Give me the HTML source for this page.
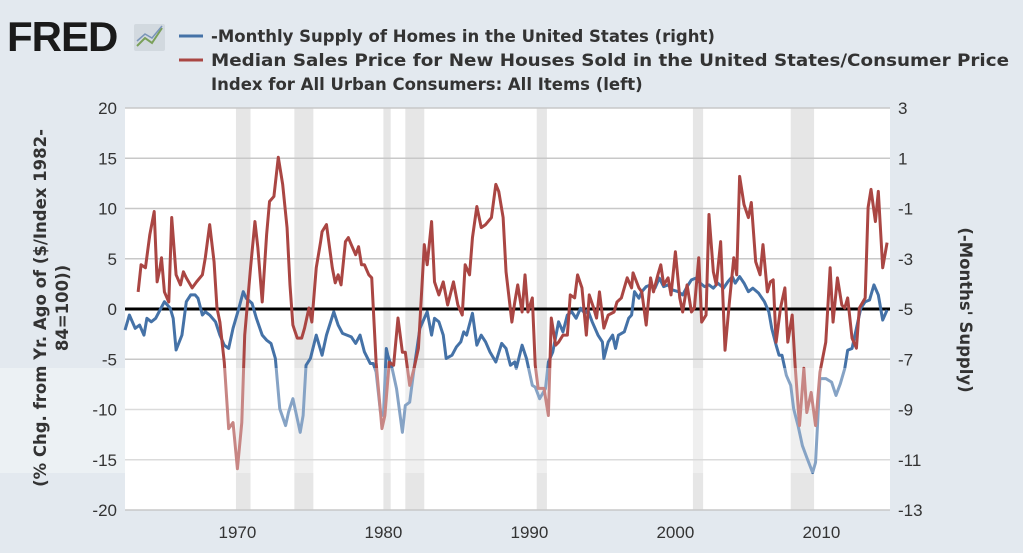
<!DOCTYPE html>
<html><head><meta charset="utf-8"><style>
body{margin:0;width:1023px;height:553px;overflow:hidden;background:#e3e9ef;font-family:"Liberation Sans",sans-serif}
svg{display:block}
</style></head><body>
<svg width="1023" height="553">
<rect x="0" y="0" width="1023" height="553" fill="#e3e9ef"/>
<g>
<text x="7" y="51" font-size="42" font-weight="bold" fill="#1a1a1a" font-family="Liberation Sans, sans-serif" letter-spacing="-1">FRED</text>
<rect x="134" y="24" width="31" height="27" fill="#d2d9df" rx="2"/>
<polyline points="137,46 145,38 152,43 162,28" fill="none" stroke="#7aa05a" stroke-width="2"/>
<polyline points="137,41 145,34 152,38 162,26" fill="none" stroke="#7a95b8" stroke-width="1.5"/>
</g>
<g font-family="DejaVu Sans, sans-serif">
<line x1="179" y1="36" x2="203" y2="36" stroke="#4572a7" stroke-width="3"/>
<text x="211" y="42" font-size="16.5" font-weight="bold" fill="#333">-Monthly Supply of Homes in the United States (right)</text>
<line x1="179" y1="60" x2="203" y2="60" stroke="#aa4643" stroke-width="3"/>
<text x="211" y="66" font-size="16.5" font-weight="bold" fill="#333" textLength="798" lengthAdjust="spacingAndGlyphs">Median Sales Price for New Houses Sold in the United States/Consumer Price</text>
<text x="211" y="90" font-size="16.5" font-weight="bold" fill="#333">Index for All Urban Consumers: All Items (left)</text>
</g>
<rect x="125" y="108" width="765" height="402" fill="#fff"/>
<g id="rec"></g><g id="grid"></g><g id="series"></g>
<rect x="0" y="368" width="125" height="105" fill="#f0f3f6" opacity="0.7"/>
<rect x="125" y="368" width="765" height="105" fill="#ffffff" opacity="0.35"/>
<g id="axes"></g>
<text transform="translate(46,308) rotate(-90)" text-anchor="middle" font-size="16.5" font-weight="bold" fill="#333" font-family="DejaVu Sans, sans-serif"><tspan x="0" y="0">(% Chg. from Yr. Ago of ($/Index 1982-</tspan><tspan x="0" y="22">84=100))</tspan></text>
<text transform="translate(960,310) rotate(90)" text-anchor="middle" font-size="16.5" font-weight="bold" fill="#333" font-family="DejaVu Sans, sans-serif">(-Months' Supply)</text>
</svg>
<script>
const redYears=[1963.2,1963.4,1963.7,1964.0,1964.3,1964.5,1964.7,1964.8,1965.0,1965.3,1965.5,1965.8,1966.1,1966.3,1966.5,1966.9,1967.2,1967.6,1967.8,1968.1,1968.4,1968.6,1968.8,1969.1,1969.4,1969.7,1970.0,1970.3,1970.5,1970.9,1971.2,1971.4,1971.7,1972.0,1972.2,1972.5,1972.8,1973.1,1973.4,1973.6,1973.8,1974.1,1974.4,1974.6,1974.9,1975.1,1975.4,1975.7,1975.8,1976.1,1976.5,1976.7,1976.9,1977.1,1977.4,1977.6,1977.8,1978.1,1978.3,1978.5,1978.7,1979.0,1979.2,1979.5,1979.9,1980.1,1980.4,1980.7,1981.0,1981.3,1981.5,1981.8,1982.1,1982.4,1982.8,1983.0,1983.3,1983.5,1983.8,1984.1,1984.4,1984.8,1985.1,1985.4,1985.6,1985.9,1986.1,1986.4,1986.7,1987.0,1987.4,1987.7,1987.9,1988.2,1988.4,1988.8,1989.0,1989.2,1989.5,1989.7,1989.9,1990.2,1990.4,1990.6,1991.0,1991.3,1991.5,1991.8,1992.0,1992.3,1992.6,1992.8,1993.1,1993.3,1993.6,1993.9,1994.1,1994.4,1994.6,1994.8,1995.1,1995.4,1995.8,1996.0,1996.3,1996.7,1997.0,1997.1,1997.5,1997.7,1998.0,1998.3,1998.5,1998.8,1999.0,1999.2,1999.5,1999.7,2000.0,2000.3,2000.5,2000.8,2001.1,2001.3,2001.6,2001.8,2002.1,2002.3,2002.6,2002.8,2003.1,2003.4,2003.7,2004.0,2004.2,2004.4,2004.7,2005.0,2005.2,2005.5,2005.8,2006.0,2006.3,2006.5,2006.7,2006.9,2007.2,2007.5,2007.7,2008.0,2008.2,2008.5,2008.8,2009.0,2009.3,2009.6,2009.9,2010.3,2010.6,2010.8,2011.1,2011.4,2011.6,2011.8,2012.1,2012.4,2012.6,2013.0,2013.2,2013.4,2013.7,2013.9,2014.2,2014.5];
const redValues=[1.7,4.4,4.1,7.4,9.7,2.7,4.1,5.1,1.7,0.7,9.1,3.4,2.4,3.7,3.1,2.1,2.7,3.4,5.1,8.4,4.7,0.1,-1.3,-5.3,-11.9,-11.3,-15.9,-11.3,-2.6,4.1,8.7,6.1,0.7,7.4,10.7,11.2,15.1,12.4,8.1,2.4,-1.6,-2.9,-2.9,-1.9,0.1,-1.3,4.1,6.7,7.7,8.4,4.1,2.6,3.4,2.4,6.7,7.1,6.4,5.4,6.2,4.4,4.4,3.4,3.1,-5.3,-11.9,-10.6,-5.3,-5.6,-0.9,-4.3,-4.3,-7.6,-5.9,-3.9,6.4,4.4,8.7,2.7,1.4,2.7,0.4,2.7,0.4,-0.6,4.4,3.4,7.1,10.2,8.1,8.4,9.1,12.4,11.7,9.1,3.7,-1.3,0.7,2.4,-0.3,3.4,-0.3,1.1,-5.6,-7.9,-7.9,-10.6,-0.9,-3.6,-3.3,-2.6,-2.6,1.4,1.1,3.4,2.1,-2.6,1.4,0.1,-0.9,1.7,-1.9,-0.6,-0.3,0.7,1.1,3.1,2.1,3.6,2.1,1.7,-1.6,3.1,1.7,3.4,4.4,2.4,3.1,1.4,5.7,1.1,-0.3,2.4,-0.3,0.1,5.1,-1.3,-0.6,9.4,3.7,2.4,6.7,-4.1,0.7,5.1,3.4,13.2,10.4,9.1,10.6,4.7,3.4,6.4,1.7,2.7,2.9,-3.3,0.1,2.1,-3.3,-0.6,-5.6,-11.6,-5.9,-10.3,-8.3,-11.6,-6.3,-3.3,4.1,-1.3,3.1,0.4,0.1,1.1,-2.9,-3.9,0.1,1.1,10.1,11.9,8.7,11.7,4.1,6.6];
const blueYears=[1962.3,1962.6,1963.0,1963.3,1963.6,1963.8,1964.1,1964.4,1964.7,1965.0,1965.4,1965.6,1965.8,1966.2,1966.5,1966.8,1967.1,1967.3,1967.6,1967.8,1968.1,1968.5,1968.8,1969.1,1969.4,1969.7,1970.1,1970.4,1970.6,1971.0,1971.3,1971.7,1972.0,1972.3,1972.6,1972.9,1973.3,1973.5,1973.8,1974.1,1974.3,1974.5,1974.7,1975.0,1975.4,1975.8,1976.1,1976.6,1976.9,1977.2,1977.5,1977.8,1978.1,1978.4,1978.7,1979.1,1979.3,1979.5,1979.8,1980.0,1980.2,1980.3,1980.6,1980.9,1981.3,1981.5,1981.8,1982.1,1982.5,1982.8,1983.0,1983.3,1983.5,1983.8,1984.1,1984.3,1984.7,1985.0,1985.3,1985.5,1985.7,1986.1,1986.4,1986.7,1987.0,1987.3,1987.7,1988.1,1988.4,1988.7,1989.0,1989.1,1989.5,1989.8,1990.2,1990.4,1990.7,1991.1,1991.3,1991.6,1992.0,1992.3,1992.6,1992.9,1993.2,1993.5,1993.8,1994.0,1994.3,1994.7,1995.0,1995.1,1995.4,1995.7,1995.9,1996.1,1996.5,1996.8,1997.0,1997.2,1997.5,1997.7,1998.0,1998.3,1998.6,1998.9,1999.2,1999.5,1999.8,2000.2,2000.5,2000.8,2001.1,2001.4,2001.7,2002.0,2002.3,2002.6,2002.9,2003.3,2003.6,2003.9,2004.1,2004.4,2004.7,2005.0,2005.3,2005.7,2006.1,2006.4,2006.6,2006.9,2007.1,2007.3,2007.6,2007.9,2008.1,2008.4,2008.7,2009.0,2009.4,2009.6,2009.9,2010.3,2010.7,2011.0,2011.3,2011.6,2011.8,2012.1,2012.4,2012.7,2013.0,2013.3,2013.6,2013.9,2014.2,2014.5];
const blueValues=[-5.84,-5.24,-5.77,-5.64,-6.04,-5.37,-5.51,-5.37,-5.04,-4.71,-4.97,-5.37,-6.63,-6.04,-4.71,-4.44,-4.44,-4.57,-5.24,-5.11,-5.24,-5.51,-6.04,-6.44,-6.57,-5.77,-4.97,-4.31,-4.57,-4.77,-5.37,-6.04,-6.24,-6.37,-6.97,-8.97,-9.64,-9.11,-8.57,-9.37,-9.91,-9.24,-7.24,-6.97,-6.04,-6.84,-6.04,-5.11,-5.64,-5.97,-6.04,-6.11,-6.37,-6.04,-6.71,-7.17,-7.17,-7.51,-9.11,-9.24,-6.57,-6.84,-7.37,-8.17,-9.91,-8.84,-8.71,-7.37,-5.77,-5.37,-5.11,-6.04,-5.37,-5.51,-6.04,-6.97,-6.84,-6.51,-6.31,-5.91,-6.04,-5.17,-6.44,-6.04,-6.31,-6.71,-7.11,-6.37,-6.57,-7.24,-7.11,-7.37,-6.44,-6.97,-8.04,-8.11,-8.57,-8.17,-7.11,-6.71,-5.51,-5.91,-5.24,-5.11,-5.37,-4.97,-5.17,-5.04,-5.51,-6.04,-6.31,-6.97,-6.31,-6.04,-6.57,-6.04,-5.91,-5.37,-5.24,-4.31,-4.57,-4.31,-4.11,-4.04,-4.17,-3.77,-4.11,-4.04,-4.24,-4.31,-4.44,-4.11,-3.84,-3.77,-3.97,-4.11,-4.04,-4.17,-3.97,-4.17,-3.91,-3.71,-3.97,-3.71,-3.97,-4.31,-4.17,-4.37,-4.71,-5.11,-5.77,-6.44,-6.84,-6.84,-7.64,-8.04,-8.97,-9.64,-10.44,-10.91,-11.51,-11.11,-7.77,-7.77,-7.91,-8.44,-7.97,-7.37,-6.64,-6.57,-5.77,-4.97,-4.71,-4.64,-4.04,-4.44,-5.44,-5.04];
const recStarts=[1969.9,1973.9,1980.0,1981.5,1990.5,2001.2,2007.9];
const recEnds=[1970.9,1975.2,1980.5,1982.8,1991.2,2001.9,2009.5];
const leftTicks=[20,15,10,5,0,-5,-10,-15,-20];
const rightTicks=[3,1,-1,-3,-5,-7,-9,-11,-13];
const xTicks=[1970,1980,1990,2000,2010];

const X0=125,X1=890,Y0=108,Y1=510,D0=1962.3,D1=2014.7;
const xs=y=>X0+(y-D0)/(D1-D0)*(X1-X0);
const yl=v=>Y0+(20-v)/40*(Y1-Y0);
const yr=v=>Y0+(3-v)/16*(Y1-Y0);
const NS='http://www.w3.org/2000/svg';
function mk(tag,attrs,parent){const e=document.createElementNS(NS,tag);for(const k in attrs)e.setAttribute(k,attrs[k]);document.getElementById(parent).appendChild(e);return e;}

recStarts.forEach((s,i)=>{
 const r=mk('rect',{x:xs(s),y:Y0,width:xs(recEnds[i])-xs(s),height:Y1-Y0,fill:'#e6e6e6'},'rec');
 
 
});
leftTicks.forEach((t,i)=>{
 const g=mk('line',{x1:X0,x2:X1,y1:yl(t),y2:yl(t),stroke:'#c8c8c8','stroke-width':1.5},'grid');
 
 
 const a=mk('text',{x:117,y:yl(t)+6,'text-anchor':'end','font-size':17,fill:'#333'},'axes');
 a.textContent=t;
 
 
 const b=mk('text',{x:898,y:yr(rightTicks[i])+6,'font-size':17,fill:'#333'},'axes');
 b.textContent=rightTicks[i];
 
 
});
xTicks.forEach(t=>{
 const a=mk('text',{x:xs(t),y:538,'text-anchor':'middle','font-size':17,fill:'#333'},'axes');
 a.textContent=t;
 
 
});
const z=mk('line',{x1:X0,x2:X1,y1:yl(0),y2:yl(0),stroke:'#000','stroke-width':3},'series');


const bp=mk('polyline',{points:blueYears.map((y,i)=>xs(y)+','+yr(blueValues[i])).join(' '),fill:'none',stroke:'#4572a7','stroke-width':3,'stroke-linejoin':'round'},'series');


const rp=mk('polyline',{points:redYears.map((y,i)=>xs(y)+','+yl(redValues[i])).join(' '),fill:'none',stroke:'#aa4643','stroke-width':3,'stroke-linejoin':'round'},'series');


</script>
</body></html>
